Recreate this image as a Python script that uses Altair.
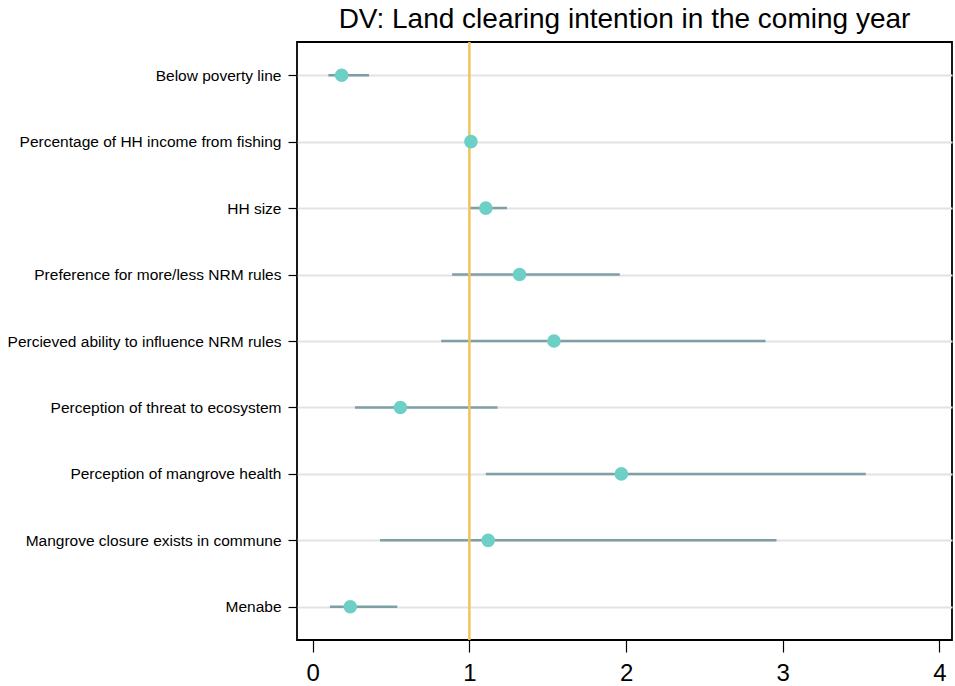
import altair as alt
import pandas as pd

labels = [
    "Below poverty line",
    "Percentage of HH income from fishing",
    "HH size",
    "Preference for more/less NRM rules",
    "Percieved ability to influence NRM rules",
    "Perception of threat to ecosystem",
    "Perception of mangrove health",
    "Mangrove closure exists in commune",
    "Menabe",
]
estimate = [0.185, 1.01, 1.105, 1.32, 1.54, 0.56, 1.97, 1.12, 0.24]
ci_low = [0.10, 1.00, 1.00, 0.89, 0.82, 0.27, 1.105, 0.43, 0.11]
ci_high = [0.36, 1.02, 1.24, 1.96, 2.89, 1.18, 3.53, 2.96, 0.54]
x_ticks = [0, 1, 2, 3, 4]
ref_value = [1]

df = pd.DataFrame({"label": labels, "est": estimate, "lo": ci_low, "hi": ci_high})
ref = pd.DataFrame({"x": ref_value})

FONT = "Liberation Sans"
xscale = alt.Scale(domain=[-0.1, 4.08], nice=False, zero=False)
yscale = alt.Scale(type="point", domain=labels, padding=0.5)

ysort = alt.Y(
    "label:N",
    scale=yscale,
    sort=labels,
    title=None,
    axis=alt.Axis(
        grid=True, gridColor="#e3e3e3", gridWidth=2,
        domain=False, tickSize=9, tickColor="black", tickWidth=1.2,
        labelFontSize=15.5, labelFont=FONT, labelColor="black", labelPadding=7,
        labelLimit=400,
    ),
)

ci = alt.Chart(df).mark_rule(color="#7f9fa6", strokeWidth=2.5).encode(
    x=alt.X(
        "lo:Q", scale=xscale, title=None,
        axis=alt.Axis(values=x_ticks, grid=False, domain=False, tickSize=12,
                      tickColor="black", tickWidth=1.2, labelFontSize=24,
                      labelFont=FONT, labelColor="black", labelPadding=9,
                      format="d"),
    ),
    x2="hi:Q",
    y=ysort,
)

refline = alt.Chart(ref).mark_rule(color="#f0c45a", strokeWidth=2.5).encode(
    x=alt.X("x:Q", scale=xscale)
)

pts = alt.Chart(df).mark_circle(size=185, color="#6dd0c6", opacity=1).encode(
    x=alt.X("est:Q", scale=xscale),
    y=alt.Y("label:N", scale=yscale, sort=labels),
)

chart = (
    alt.layer(ci, refline, pts)
    .properties(
        width=655, height=598,
        title=alt.TitleParams(
            "DV: Land clearing intention in the coming year",
            fontSize=28, font=FONT, fontWeight="normal", color="black",
            anchor="middle", offset=7,
        ),
        autosize=alt.AutoSizeParams(type="none"),
        padding={"left": 297, "top": 42, "right": 3, "bottom": 46},
    )
    .configure(background="white")
    .configure_view(stroke="black", strokeWidth=1.8)
)

chart.save("out.html", embed_options={"renderer": "svg", "actions": False})
